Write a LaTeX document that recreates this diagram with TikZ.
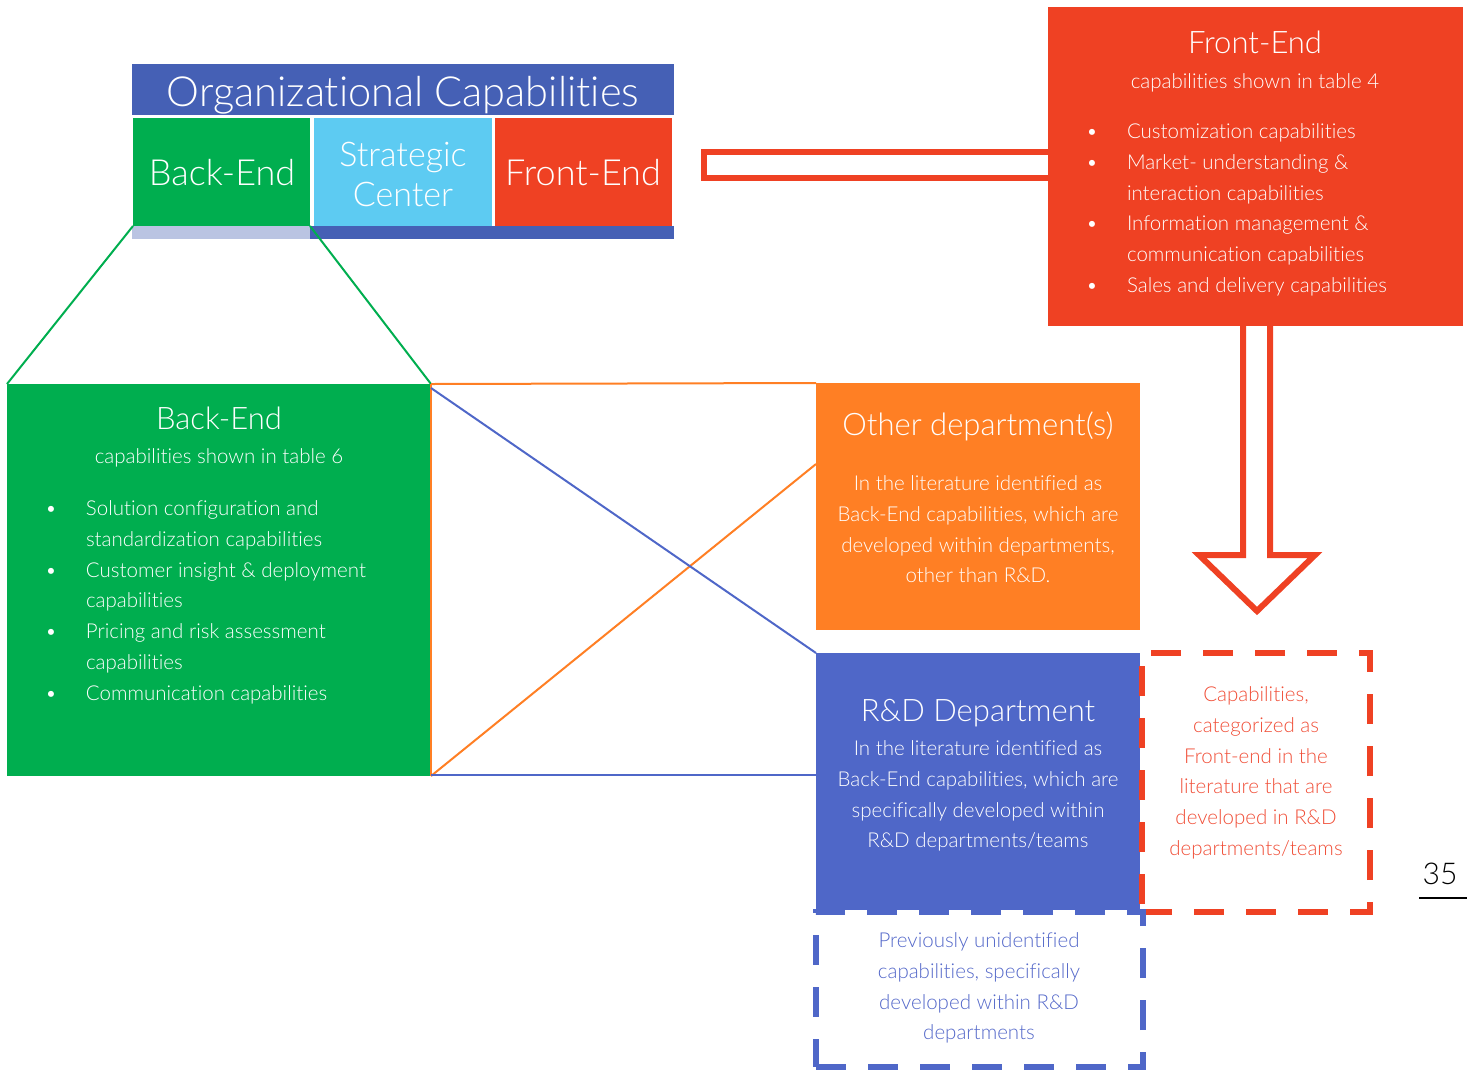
\documentclass[tikz,border=0pt]{standalone}
\usepackage{fontspec}
\setmainfont{Lato-Light}[Extension=.ttf, Ligatures=NoCommon]
\usetikzlibrary{calc}
\definecolor{cHead}{HTML}{4560B5}
\definecolor{cGreen}{HTML}{00AE4F}
\definecolor{cSky}{HTML}{5DCBF2}
\definecolor{cRed}{HTML}{EF4123}
\definecolor{cOrange}{HTML}{FF7F24}
\definecolor{cBlue}{HTML}{4F67C8}
\definecolor{cLav}{HTML}{BAC4E2}
\definecolor{cRedTxt}{HTML}{F04E37}
\definecolor{cBlueTxt}{HTML}{5468C9}
\newcommand\mlines[2]{{\begin{tabular}[t]{@{}#1@{}}#2\end{tabular}}}
\newcommand\bul{\makebox[0pt]{\textbullet}}
\tikzset{
  box/.style={inner sep=0pt, outer sep=0pt, draw=none},
  txt/.style={inner sep=0pt, outer sep=0pt, anchor=base, text=white},
  body/.style={font=\fontsize{20.5}{30.8}\selectfont},
  title/.style={font=\fontsize{31}{36}\selectfont},
  dashbox/.style={inner sep=0pt, outer sep=0pt, line width=6pt, dash pattern=on 30pt off 22pt},
  conn/.style={line width=2pt}
}
\begin{document}
\begin{tikzpicture}[x=1pt,y=-1pt]
\useasboundingbox (0,0) rectangle (1467,1072);
% header
\node[box, fill=cHead, minimum width=542pt, minimum height=51pt] (head) at (403,89.5) {};
\node[txt, font=\fontsize{41.5}{46}\selectfont] (headt) at (403,106) {Organizational Capabilities};
\node[box, fill=cGreen, minimum width=177pt, minimum height=108pt] (sbe) at (221.5,172) {};
\node[box, fill=cSky, minimum width=178pt, minimum height=108pt] (ssc) at (403,172) {};
\node[box, fill=cRed, minimum width=177pt, minimum height=108pt] (sfe) at (583.5,172) {};
\node[box, fill=cLav, minimum width=178pt, minimum height=13pt] (lav) at (221,232.5) {};
\node[box, fill=cHead, minimum width=364pt, minimum height=13pt] (bstrip) at (492,232.5) {};
\node[txt, font=\fontsize{36}{40}\selectfont] (sbet) at (222,185) {Back-End};
\node[txt, font=\fontsize{34}{40}\selectfont] (ssct) at (403,166) {\mlines{c}{Strategic\\Center}};
\node[txt, font=\fontsize{36}{40}\selectfont] (sfet) at (583,185) {Front-End};
% horizontal hollow bar
\draw[cRed, line width=6.5pt, fill=white] (704,152) rectangle (1052,178);
% down hollow arrow
\draw[cRed, line width=6pt, fill=white, line join=miter] (1243,320) -- (1243,555) -- (1199,555) -- (1257,611) -- (1315,555) -- (1270,555) -- (1270,320);
% front-end box
\node[box, fill=cRed, minimum width=415pt, minimum height=319pt] (fe) at (1255.5,166.5) {};
\node[txt, title] (fet) at (1255,53) {Front-End};
\node[txt, body] (fes) at (1255,88) {capabilities shown in table 4};
\node[txt, body, anchor=base west] (fel) at (1092,138.5) {\mlines{p{35pt}@{}l}{\bul & Customization capabilities\\ \bul & Market- understanding \&\\ & interaction capabilities\\ \bul & Information management \&\\ & communication capabilities\\ \bul & Sales and delivery capabilities}};
% green box
\node[box, fill=cGreen, minimum width=424pt, minimum height=392pt] (gbox) at (219,580) {};
\node[txt, title] (gt) at (219,429) {Back-End};
\node[txt, body] (gs) at (219,463.5) {capabilities shown in table 6};
\node[txt, body, anchor=base west] (gl) at (51,515.5) {\mlines{p{35pt}@{}l}{\bul & Solution configuration and\\ & standardization capabilities\\ \bul & Customer insight \& deployment\\ & capabilities\\ \bul & Pricing and risk assessment\\ & capabilities\\ \bul & Communication capabilities}};
% orange box
\node[box, fill=cOrange, minimum width=324pt, minimum height=247pt] (obox) at (978,506.5) {};
\node[txt, title] (ot) at (978,435) {Other department(s)};
\node[txt, body] (ob) at (978,490.5) {\mlines{c}{In the literature identified as\\Back-End capabilities, which are\\developed within departments,\\other than R\&D.}};
% R&D box
\node[box, fill=cBlue, minimum width=324pt, minimum height=257pt] (rbox) at (978,781.5) {};
\node[txt, title] (rt) at (978,721) {R\&D Department};
\node[txt, body] (rb) at (978,755.5) {\mlines{c}{In the literature identified as\\Back-End capabilities, which are\\specifically developed within\\R\&D departments/teams}};
% dashed boxes
\node[dashbox, draw=cRed, minimum width=228pt, minimum height=259pt] (rdash) at (1256,782.5) {};
\node[txt, body, text=cRedTxt] (rdt) at (1256,701.5) {\mlines{c}{Capabilities,\\categorized as\\Front-end in the\\literature that are\\developed in R\&D\\departments/teams}};
\node[dashbox, draw=cBlue, minimum width=327pt, minimum height=155pt] (bdash) at (979.5,989.5) {};
\node[txt, body, text=cBlueTxt] (bdt) at (979,947.5) {\mlines{c}{Previously unidentified\\capabilities, specifically\\developed within R\&D\\departments}};
% connectors
\coordinate (oin) at ($(obox.north west)!0.328!(obox.south west)$);
\coordinate (bstart) at ($(gbox.north east)+(0,4)$);
\coordinate (bend) at ($(gbox.south east)+(0,-1)$);
\coordinate (bin) at (rbox.west |- bend);
\draw[conn, cGreen] (sbe.south west) -- (gbox.north west);
\draw[conn, cGreen] (sbe.south east) -- (gbox.north east);
\draw[conn, cOrange] (gbox.north east) -- (obox.north west);
\draw[conn, cOrange] (gbox.north east) -- (gbox.south east);
\draw[conn, cOrange] (gbox.south east) -- (oin);
\draw[conn, cBlue] (bstart) -- (rbox.north west);
\draw[conn, cBlue] (bend) -- (bin);
% page number
\node[txt, text=black, font=\fontsize{30}{34}\selectfont] (pg) at (1440,884) {35};
\coordinate (ul1) at (1419,898);
\coordinate (ul2) at (1467,898);
\draw[line width=2pt] (ul1) -- (ul2);
\end{tikzpicture}
\end{document}
